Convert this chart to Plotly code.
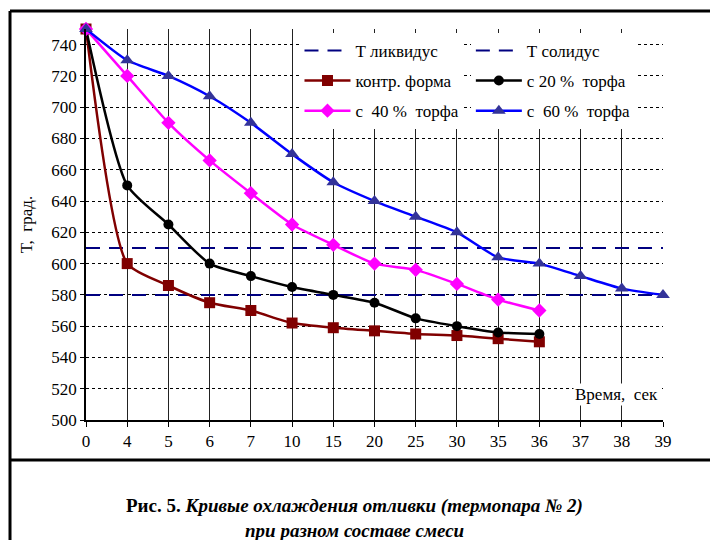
import plotly.graph_objs as go

# Data
time_labels = ['0', '4', '5', '6', '7', '10', '15', '20', '25', '30', '35', '36', '37', '38', '39']

control_form = [750, 600, 586, 575, 570, 562, 559, 557, 555, 554, 552, 550]
peat_20 = [750, 650, 625, 600, 592, 585, 580, 575, 565, 560, 556, 555]
peat_40 = [750, 720, 690, 666, 645, 625, 612, 600, 596, 587, 577, 570]
peat_60 = [750, 730, 720, 707, 690, 670, 652, 640, 630, 620, 604, 600, 592, 584, 580]

t_liquidus = 610
t_solidus = 580

y_ticks = list(range(500, 741, 20))

font_family = 'Liberation Serif'
navy = '#000080'

# Build traces
data = []

data.append(go.Scatter(name='Т ликвидус', x=time_labels, y=[t_liquidus] * len(time_labels),
                       mode='lines', line={'color': navy, 'width': 2, 'dash': '14px,9px'},
                       legend='legend', legendgroup='a'))
data.append(go.Scatter(name='Т солидус', x=time_labels, y=[t_solidus] * len(time_labels),
                       mode='lines', line={'color': navy, 'width': 2, 'dash': '14px,9px'},
                       legend='legend2', legendgroup='b'))

series = [
    ('контр. форма', control_form, '#800000', 'square', 11, '#800000', 'legend', 'c'),
    ('с\u00a020\u00a0%\u00a0\u00a0торфа', peat_20, 'black', 'circle', 10, 'black', 'legend2', 'd'),
    ('с\u00a0\u00a040\u00a0%\u00a0\u00a0торфа', peat_40, '#ff00ff', 'diamond', 11, '#ff00ff', 'legend', 'e'),
    ('с\u00a0\u00a060\u00a0%\u00a0\u00a0торфа', peat_60, '#0000ff', 'triangle-up', 12, '#333399', 'legend2', 'f'),
]
for name, values, color, symbol, size, fill, legend, group in series:
    data.append(go.Scatter(name=name, x=time_labels[:len(values)], y=values, mode='lines+markers',
                           line={'color': color, 'width': 2.5, 'shape': 'spline', 'smoothing': 0.6},
                           marker={'symbol': symbol, 'size': size, 'color': fill},
                           cliponaxis=False, legend=legend, legendgroup=group))

legend_style = dict(bgcolor='white', borderwidth=0, font=dict(family=font_family, size=17, color='black'),
                    itemwidth=46, tracegroupgap=5, yanchor='top', xanchor='left', orientation='v')

layout = {
    "width": 710,
    "height": 540,
    "margin": dict(l=86, r=47, t=29, b=120),
    "paper_bgcolor": 'white',
    "plot_bgcolor": 'white',
    "font": dict(family=font_family, size=16, color='black'),
    "showlegend": True,
    "legend": dict(x=0.37, y=0.99, **legend_style),
    "legend2": dict(x=0.667, y=0.99, **legend_style),
}

fig = go.Figure(data=data, layout=layout)

fig.update_xaxes(type='category', categoryorder='array', categoryarray=time_labels, range=[0, 14],
                 showgrid=True, gridcolor='#222222', gridwidth=1,
                 showline=True, linecolor='black', linewidth=1.5,
                 ticks='outside', ticklen=5, tickcolor='black',
                 tickfont=dict(family=font_family, size=17), zeroline=False)
fig.update_yaxes(range=[500, 750], tickvals=y_ticks,
                 showgrid=True, gridcolor='black', gridwidth=1, griddash='dot',
                 showline=True, linecolor='black', linewidth=1.5,
                 ticks='outside', ticklen=4, tickcolor='black',
                 tickfont=dict(family=font_family, size=17), zeroline=False,
                 title=dict(text='Т,  град.', font=dict(family=font_family, size=17), standoff=14))

# Axis label inside the plot area
fig.add_annotation(text='Время,  сек', xref='paper', yref='y', x=0.995, y=516, xanchor='right',
                   yanchor='middle', showarrow=False, bgcolor='white',
                   font=dict(family=font_family, size=17, color='black'))

# Caption
fig.add_annotation(text='<b>Рис. 5. <i>Кривые охлаждения отливки (термопара № 2)</i></b>',
                   xref='paper', yref='paper', x=0.466, y=-0.22, xanchor='center', yanchor='middle',
                   showarrow=False, font=dict(family=font_family, size=19, color='black'))
fig.add_annotation(text='<b><i>при разном составе смеси</i></b>',
                   xref='paper', yref='paper', x=0.466, y=-0.282, xanchor='center', yanchor='middle',
                   showarrow=False, font=dict(family=font_family, size=19, color='black'))

# Frame lines around chart and caption
frame = dict(color='black', width=3)
fig.add_shape(type='line', xref='paper', yref='paper', x0=-0.1317, x1=1.09, y0=1.046, y1=1.046, line=frame)
fig.add_shape(type='line', xref='paper', yref='paper', x0=-0.1317, x1=-0.1317, y0=1.046, y1=-0.31, line=frame)
fig.add_shape(type='line', xref='paper', yref='paper', x0=-0.1317, x1=1.09, y0=-0.1023, y1=-0.1023, line=frame)

# Save figure (drop the default page margin so the figure sits at the window corner)
fig.write_html("out.html", config={'displayModeBar': False},
               post_script="document.body.style.margin='0';")
